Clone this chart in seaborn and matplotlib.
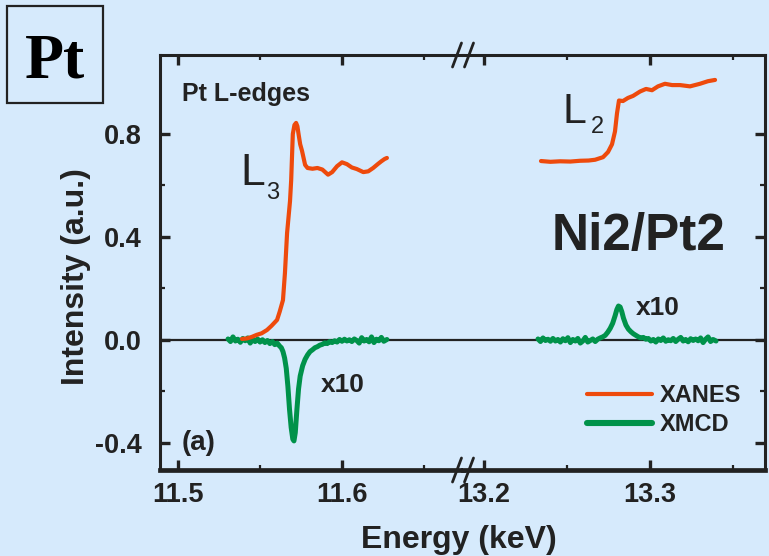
import matplotlib
matplotlib.use("Agg")
import matplotlib.pyplot as plt
import matplotlib.lines as mlines
import matplotlib.patches as mpatches
from matplotlib.ticker import FixedLocator
import seaborn as sns

# ---- Pt L3 edge ----
l3_xanes_energy = [11.539, 11.542, 11.545, 11.548, 11.551, 11.5543, 11.557, 11.5604,
                   11.562, 11.564, 11.5652, 11.5665, 11.5683, 11.569, 11.5695, 11.570,
                   11.571, 11.572, 11.5728, 11.5735, 11.5745, 11.5756, 11.5775, 11.579,
                   11.582, 11.585, 11.588, 11.5915, 11.594, 11.597, 11.600, 11.603,
                   11.606, 11.609, 11.611, 11.613, 11.616, 11.619, 11.622, 11.624, 11.626, 11.6274]
l3_xanes = [0.004, 0.006, 0.012, 0.020, 0.026, 0.039, 0.055, 0.078,
            0.110, 0.155, 0.26, 0.415, 0.54, 0.62, 0.71, 0.80,
            0.835, 0.843, 0.83, 0.80, 0.76, 0.735, 0.68, 0.668,
            0.665, 0.668, 0.662, 0.642, 0.652, 0.675, 0.690, 0.683,
            0.670, 0.664, 0.658, 0.652, 0.655, 0.668, 0.684, 0.694, 0.703, 0.707]

l3_xmcd_energy = [11.5305, 11.532, 11.5335, 11.535, 11.5365, 11.538, 11.5395, 11.541,
                  11.5425, 11.544, 11.5455, 11.547, 11.5485, 11.550, 11.5515, 11.553,
                  11.5545, 11.556, 11.5575, 11.559, 11.5605, 11.562, 11.563, 11.564,
                  11.565, 11.566, 11.567, 11.568, 11.569, 11.570, 11.5707, 11.5715,
                  11.5725, 11.5735, 11.5745, 11.576, 11.5775, 11.579, 11.5805, 11.582,
                  11.5835, 11.585, 11.5865, 11.588, 11.5895, 11.591, 11.5925, 11.594,
                  11.5955, 11.597, 11.5985, 11.600, 11.6015, 11.603, 11.6045, 11.606,
                  11.6075, 11.609, 11.6105, 11.612, 11.6135, 11.615, 11.6165, 11.618,
                  11.6195, 11.621, 11.6225, 11.624, 11.6255, 11.6274]
l3_xmcd = [0.004, -0.006, 0.012, -0.004, 0.003, -0.009, 0.006, -0.003,
           0.008, -0.012, 0.002, -0.006, 0.004, -0.008, 0.001, -0.010,
           -0.002, -0.014, -0.006, -0.018, -0.012, -0.024, -0.030, -0.045,
           -0.07, -0.11, -0.18, -0.27, -0.34, -0.385, -0.392, -0.36,
           -0.27, -0.19, -0.14, -0.10, -0.075, -0.058, -0.045, -0.038,
           -0.030, -0.026, -0.020, -0.017, -0.011, -0.014, -0.006, -0.010,
           -0.003, -0.008, 0.002, -0.005, 0.003, -0.004, 0.001, -0.006,
           0.004, -0.002, -0.012, 0.009, -0.004, 0.002, -0.007, 0.012,
           -0.010, 0.003, -0.003, 0.010, -0.005, 0.002]

# ---- Pt L2 edge ----
l2_xanes_energy = [13.2343, 13.2400, 13.2458, 13.2520, 13.2578, 13.2630, 13.2669, 13.2717,
                   13.2747, 13.2771, 13.2789, 13.2801, 13.2813, 13.2837, 13.2867, 13.2898,
                   13.2940, 13.2976, 13.3012, 13.3048, 13.3090, 13.3133, 13.3181, 13.3241,
                   13.3301, 13.3349, 13.3392]
l2_xanes = [0.695, 0.692, 0.694, 0.693, 0.696, 0.697, 0.700, 0.710,
            0.730, 0.760, 0.810, 0.880, 0.930, 0.928, 0.940, 0.948,
            0.965, 0.975, 0.970, 0.985, 0.995, 0.990, 0.990, 0.985,
            0.995, 1.005, 1.010]

l2_xmcd_energy = [13.2325, 13.234, 13.2355, 13.237, 13.2385, 13.240, 13.2415, 13.243,
                  13.2445, 13.246, 13.2475, 13.249, 13.2505, 13.252, 13.2535, 13.255,
                  13.2565, 13.258, 13.2595, 13.261, 13.2625, 13.264, 13.2655, 13.267,
                  13.2685, 13.270, 13.2715, 13.273, 13.2745, 13.276, 13.2775, 13.279,
                  13.280, 13.281, 13.282, 13.283, 13.284, 13.2855, 13.287, 13.2885,
                  13.290, 13.2915, 13.293, 13.2945, 13.296, 13.2975, 13.299, 13.3005,
                  13.302, 13.3035, 13.305, 13.3065, 13.308, 13.3095, 13.311, 13.3125,
                  13.314, 13.3155, 13.317, 13.3185, 13.320, 13.3215, 13.323, 13.3245,
                  13.326, 13.3275, 13.329, 13.3305, 13.332, 13.3335, 13.335, 13.3365,
                  13.338, 13.3398]
l2_xmcd = [0.004, -0.006, 0.008, -0.002, 0.003, -0.005, 0.006, -0.004,
           0.002, -0.008, 0.005, -0.003, 0.009, -0.010, 0.002, -0.004,
           0.006, -0.012, -0.004, 0.010, -0.008, -0.002, 0.004, -0.006,
           0.003, 0.008, 0.012, 0.018, 0.030, 0.045, 0.065, 0.095,
           0.118, 0.132, 0.128, 0.110, 0.085, 0.058, 0.042, 0.032,
           0.024, 0.018, 0.012, 0.008, 0.010, 0.003, 0.006, -0.004,
           0.002, -0.008, 0.004, -0.002, 0.008, -0.005, 0.001, -0.003,
           0.006, -0.006, 0.003, 0.010, -0.004, 0.002, -0.007, 0.005,
           -0.002, 0.004, -0.003, 0.008, -0.010, 0.003, 0.012, -0.006,
           0.002, -0.004]

y_ticks = [-0.4, 0.0, 0.4, 0.8]
y_tick_labels = ["-0.4", "0.0", "0.4", "0.8"]
x_ticks_low = [11.5, 11.6]
x_ticks_high = [13.2, 13.3]
x_labels_low = ["11.5", "11.6"]
x_labels_high = ["13.2", "13.3"]

BG = "#D6EAFC"
INK = "#222222"
ORANGE = "#EE4A0C"
GREEN = "#00924A"

sns.set_theme(style="ticks")
plt.rcParams["font.family"] = ["Liberation Sans", "DejaVu Sans"]
plt.rcParams["axes.facecolor"] = BG

W, H = 769, 556


def fpos(x, y):
    return x / W, 1 - y / H


fig = plt.figure(figsize=(W / 100, H / 100), dpi=100, facecolor=BG)
ax_l = fig.add_axes([160 / W, 86 / H, 303 / W, 415 / H])
ax_r = fig.add_axes([463 / W, 86 / H, 302 / W, 415 / H])

for ax in (ax_l, ax_r):
    ax.set_facecolor(BG)
    ax.set_ylim(-0.5049, 1.1068)
    ax.axhline(0, color=INK, lw=1.6, zorder=1)
    for s in ax.spines.values():
        s.set_color(INK)
        s.set_linewidth(2.2)
    ax.spines["bottom"].set_linewidth(3.4)
    ax.yaxis.set_major_locator(FixedLocator(y_ticks))
    ax.yaxis.set_minor_locator(FixedLocator([-0.2, 0.2, 0.6]))
    ax.tick_params(which="major", direction="in", length=7, width=2.4, color=INK,
                   labelsize=19.5, labelcolor=INK, top=True, bottom=True)
    ax.tick_params(which="minor", direction="in", length=3.5, width=1.6, color=INK,
                   top=True, bottom=True)
    ax.tick_params(axis="x", which="major", pad=9)

ax_l.set_xlim(11.4890, 11.6738)
ax_r.set_xlim(13.1873, 13.3693)
ax_l.set_xticks(x_ticks_low)
ax_l.set_xticklabels(x_labels_low)
ax_l.xaxis.set_minor_locator(FixedLocator([11.55, 11.65]))
ax_r.set_xticks(x_ticks_high)
ax_r.set_xticklabels(x_labels_high)
ax_r.xaxis.set_minor_locator(FixedLocator([13.25, 13.35]))

ax_l.spines["right"].set_visible(False)
ax_r.spines["left"].set_visible(False)
ax_l.tick_params(axis="y", which="both", left=True, right=False, pad=13)
ax_r.tick_params(axis="y", which="both", left=False, right=True, labelleft=False)
ax_l.set_yticks(y_ticks)
ax_l.set_yticklabels(y_tick_labels)
for ax in (ax_l, ax_r):
    for lab in ax.get_xticklabels() + ax.get_yticklabels():
        lab.set_fontweight("bold")

# spectra
sns.lineplot(x=l3_xanes_energy, y=l3_xanes, ax=ax_l, color=ORANGE, lw=3.0,
             estimator=None, sort=False, zorder=3)
sns.lineplot(x=l3_xmcd_energy, y=l3_xmcd, ax=ax_l, color=GREEN, lw=3.6,
             estimator=None, sort=False, zorder=2)
sns.lineplot(x=l2_xanes_energy, y=l2_xanes, ax=ax_r, color=ORANGE, lw=3.0,
             estimator=None, sort=False, zorder=3)
sns.lineplot(x=l2_xmcd_energy, y=l2_xmcd, ax=ax_r, color=GREEN, lw=3.6,
             estimator=None, sort=False, zorder=2)
for ax in (ax_l, ax_r):
    ax.set_xlabel("")
    ax.set_ylabel("")

# legend
handles = [mlines.Line2D([], [], color=ORANGE, lw=3.0, label="XANES"),
           mlines.Line2D([], [], color=GREEN, lw=4.4, label="XMCD")]
leg = ax_r.legend(handles=handles, loc="upper left", bbox_to_anchor=fpos(587, 384),
                  bbox_transform=fig.transFigure, frameon=False, fontsize=17,
                  handlelength=2.75, handletextpad=0.35, labelspacing=0.25,
                  borderpad=0, borderaxespad=0)
for t in leg.get_texts():
    t.set_fontweight("bold")
    t.set_color(INK)

# axis break marks
for yb in (55, 470):
    for xb in (457, 469):
        x0, y0 = fpos(xb - 4.5, yb + 12)
        x1, y1 = fpos(xb + 4.5, yb - 12)
        fig.add_artist(mlines.Line2D([x0, x1], [y0, y1], transform=fig.transFigure,
                                     color=INK, lw=2.0))


# annotations
def label(x, y, s, **kw):
    fig.text(*fpos(x, y), s, color=INK, va="baseline", **kw)


label(182, 101, "Pt L-edges", fontsize=18, fontweight="bold")
label(240, 185, "L", fontsize=32)
label(266, 199, "3", fontsize=17)
label(563, 123, "L", fontsize=31)
label(591, 133, "2", fontsize=17)
label(552, 250, "Ni2/Pt2", fontsize=37, fontweight="bold")
label(321, 392, "x10", fontsize=19, fontweight="bold")
label(636, 315, "x10", fontsize=19, fontweight="bold")
label(182, 450, "(a)", fontsize=20, fontweight="bold")

fig.text(*fpos(459, 548), "Energy (keV)", ha="center", va="baseline", color=INK,
         fontsize=23, fontweight="bold")
fig.text(*fpos(76, 277), "Intensity (a.u.)", ha="center", va="center", rotation=90,
         color=INK, fontsize=23, fontweight="bold")

# element box
bx0, by0 = fpos(7, 103)
fig.add_artist(mpatches.Rectangle((bx0, by0), 96 / W, 97 / H, transform=fig.transFigure,
                                  fill=False, edgecolor=INK, lw=1.6))
fig.text(*fpos(55, 77), "Pt", ha="center", va="baseline", color="black", fontsize=46,
         fontweight="bold", family=["Liberation Serif", "DejaVu Serif"])

fig.savefig("out.png", dpi=100, facecolor=BG)
